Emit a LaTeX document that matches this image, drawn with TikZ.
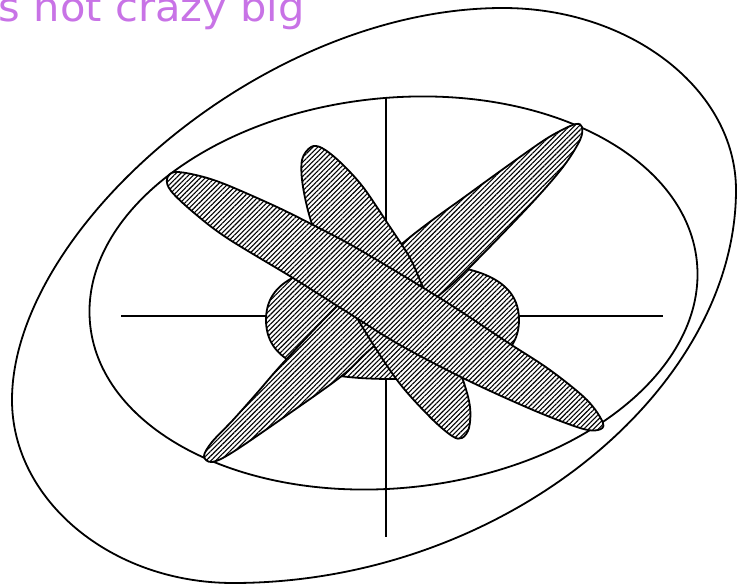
\documentclass[tikz,border=0pt]{standalone}
\usepackage{fontspec}
\setmainfont{DejaVu Sans}
\usetikzlibrary{patterns.meta}
\definecolor{txtpurple}{RGB}{200,115,230}
\begin{document}
\begin{tikzpicture}[x=1pt,y=-1pt,line width=1.8pt,line join=round,
  hatch/.style={preaction={fill=white},
    preaction={pattern={Lines[angle=45,distance=3.4pt,line width=1.1pt]},pattern color=black},
    draw=black}]
\useasboundingbox (0,0) rectangle (740,585);
% title
\node[font=\fontsize{40}{46}\selectfont,text=txtpurple,anchor=base west,inner sep=0pt,xscale=1.04] (title) at (-2,22) {s not crazy big};
% outer closed curve
\draw (503,8) .. controls (631,8) and (736,90) .. (736,190)
  .. controls (736,390) and (503,583) .. (233,583)
  .. controls (111,583) and (12,500) .. (12,400)
  .. controls (12,230) and (263,8) .. (503,8) -- cycle;
% inner ellipse
\coordinate (ic) at (393.5,293);
\draw[rotate around={6:(ic)}] (ic) ellipse [x radius=305,y radius=195];
% axes
\coordinate (hl) at (121,316);
\coordinate (hr) at (663,316);
\coordinate (vt) at (386,98);
\coordinate (vb) at (386,537);
\draw (hl) -- (hr);
\draw (vt) -- (vb);
% central blob
\draw[hatch] (519,320) .. controls (519,281) and (481,262) .. (392,262)
  .. controls (303,262) and (266,281) .. (266,320)
  .. controls (266,359) and (303,379) .. (392,379)
  .. controls (481,379) and (519,359) .. (519,320) -- cycle;
% lobe rising to the upper right
\draw[hatch] plot[smooth cycle,tension=0.55] coordinates {(204,456) (212,442) (233,420) (257,393) (283,363) (333,310) (403,243) (470,193) (537,145) (560,131) (576,124) (582,127) (580,140) (563,167) (530,205) (470,267) (437,297) (373,347) (343,375) (290,413) (233,452) (212,462)};
% short petal
\draw[hatch] plot[smooth cycle,tension=0.55] coordinates {(311,147) (322,148) (340,162) (363,187) (390,227) (410,258) (423,287) (445,333) (463,380) (470,407) (469,428) (462,438) (452,436) (430,417) (397,380) (360,323) (335,275) (313,227) (303,187) (302,160)};
% long lobe falling to the lower right
\draw[hatch] plot[smooth cycle,tension=0.55] coordinates {(167,179) (175,172) (200,176) (227,185) (277,207) (317,227) (360,250) (443,300) (507,342) (550,370) (587,400) (603,423) (598,430) (580,428) (533,410) (467,380) (400,345) (347,312) (293,278) (227,238) (193,212) (171,191)};
\end{tikzpicture}
\end{document}
